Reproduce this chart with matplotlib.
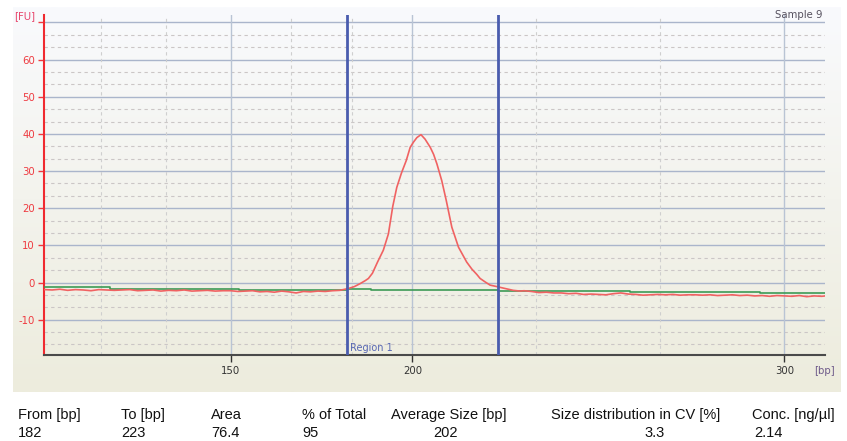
import numpy as np
import matplotlib
matplotlib.use("Agg")
import matplotlib.pyplot as plt

# ---------------- data ----------------
ladder_bp = [50, 100, 150, 200, 300, 400, 500]
ladder_pos = [-194.1, 0.0, 194.1, 375.7, 747.7, 1119.7, 1491.7]

xtick_vals = [150, 200, 300]
xtick_labels = ["150", "200", "300"]
ytick_vals = [-10, 0, 10, 20, 30, 40, 50, 60, 70]
ytick_labels = ["-10", "0", "10", "20", "30", "40", "50", "60", ""]
x_minor_grid = [116.67, 133.33, 166.67, 183.33, 233.33, 266.67]

red_bp = [102, 104, 106, 108, 110, 112, 114, 116, 118, 120, 122, 124, 126, 128,
          130, 132, 134, 136, 138, 140, 142, 144, 146, 148, 150, 152, 154, 156,
          158, 160, 162, 164, 166, 168, 170, 172, 174, 176, 178, 180, 182.4,
          184, 185.6, 187, 187.9, 189, 190.4, 192, 193.4, 194.6, 195.7, 197,
          198.3, 199.4, 200.3, 201.2, 202.3, 203.4, 204.8, 205.7, 206.6, 207.9,
          209.1, 210.6, 212.4, 214.6, 216, 217.3, 218.2, 219.5, 220.9, 222.3,
          223.6, 224.9, 227.1, 229, 230, 232, 234, 236, 238, 240, 242, 244, 246,
          248, 250, 252, 254, 256, 258, 260, 262, 264, 266, 268, 270, 272, 274,
          276, 278, 280, 282, 284, 286, 288, 290, 292, 294, 296, 298, 300, 302,
          304, 306, 308, 310, 311]
red_fu = [-1.9, -2.0, -1.8, -2.1, -1.9, -2.0, -2.2, -1.9, -2.0, -2.1, -2.0, -1.9,
          -2.2, -2.1, -2.0, -2.3, -2.1, -2.2, -2.0, -2.3, -2.2, -2.1, -2.3, -2.2,
          -2.2, -2.4, -2.3, -2.2, -2.5, -2.4, -2.6, -2.3, -2.5, -2.8, -2.4, -2.5,
          -2.3, -2.4, -2.2, -2.1, -1.6,
          -1.1, -0.3, 0.5, 1.1, 2.5, 5.5, 8.7, 13.1, 20.5, 25.6, 29.5,
          32.8, 36.4, 37.8, 39.0, 39.8, 38.6, 36.4, 34.5, 31.9, 27.4,
          22.1, 14.9, 9.5, 5.5, 3.6, 2.2, 1.1, 0.2, -0.7, -1.0,
          -1.3, -1.6, -2.1, -2.3, -2.2, -2.4, -2.7, -2.6, -2.8, -2.8, -3.0, -2.9,
          -3.2, -3.1, -3.2, -3.3, -3.0, -2.8, -3.1, -3.2, -3.4, -3.3, -3.2, -3.3,
          -3.2, -3.4, -3.3, -3.3, -3.4, -3.3, -3.5, -3.4, -3.3, -3.5, -3.4, -3.6,
          -3.5, -3.7, -3.5, -3.6, -3.7, -3.5, -3.8, -3.6, -3.7, -3.6]

green_bp = [101.9, 119, 152.3, 182, 188.5, 223, 258.6, 293.4, 311]
green_fu = [-1.3, -1.7, -1.9, -1.7, -2.1, -2.2, -2.5, -2.8, -2.8]

region_from = 182
region_to = 223
region_label = "Region 1"
sample_name = "Sample 9"

table_headers = ["From [bp]", "To [bp]", "Area", "% of Total", "Average Size [bp]",
                 "Size distribution in CV [%]", "Conc. [ng/µl]"]
table_values = ["182", "223", "76.4", "95", "202", "3.3", "2.14"]

# ---------------- figure ----------------
W, H = 847, 441
fig = plt.figure(figsize=(W / 100, H / 100), dpi=100)
fig.patch.set_facecolor("white")

def fx(px):
    return px / W

def fy(py):
    return 1 - py / H

# gradient panel
bg = fig.add_axes([fx(13), fy(392), fx(840) - fx(13), fy(7) - fy(392)])
top = np.array([249, 250, 253]) / 255
bot = np.array([237, 236, 221]) / 255
t = np.linspace(0, 1, 256)[:, None]
grad = (top[None, :] * (1 - t) + bot[None, :] * t)[:, None, :]
bg.imshow(grad, aspect="auto", extent=[0, 1, 0, 1])
bg.set_axis_off()
bg.set_zorder(0)

ax = fig.add_axes([fx(44), fy(355), fx(825) - fx(44), fy(15) - fy(355)])
ax.set_zorder(1)
ax.patch.set_alpha(0)

def fwd(x):
    return np.interp(x, ladder_bp, ladder_pos)

def inv(p):
    return np.interp(p, ladder_pos, ladder_bp)

ax.set_xscale("function", functions=(fwd, inv))
ax.set_xlim(101.9, 310.9)
ax.set_ylim(-19.5, 72)

# grid
for yv in ytick_vals:
    ax.axhline(yv, color="#aab5cb", lw=1.0, zorder=1)
for yv in ytick_vals[:-1]:
    for k in (1, 2):
        ax.axhline(yv + k * 10 / 3, color="#cbc6c6", lw=0.8, ls=(0, (3, 3)), zorder=1)
ax.axhline(-10 - 10 / 3, color="#cbc6c6", lw=0.8, ls=(0, (3, 3)), zorder=1)
ax.axhline(-10 - 20 / 3, color="#cbc6c6", lw=0.8, ls=(0, (3, 3)), zorder=1)
for xv in xtick_vals:
    ax.axvline(xv, color="#b9c4d4", lw=1.0, zorder=1)
for xv in x_minor_grid:
    ax.axvline(xv, color="#cfcfcf", lw=0.8, ls=(0, (3, 3)), zorder=1)

# traces
ax.plot(green_bp, green_fu, color="#3d9a55", lw=1.2, drawstyle="steps-post", zorder=3)
ax.plot(red_bp, red_fu, color="#f06262", lw=1.2, zorder=4)

# region lines
ax.axvline(region_from, color="#4a5cae", lw=2.0, zorder=5)
ax.axvline(region_to, color="#4a5cae", lw=2.0, zorder=5)
ax.text(region_from + 0.8, -17.6, region_label, color="#5868b4", fontsize=7,
        ha="left", va="center", zorder=6)

# axes styling
ax.set_xticks(xtick_vals)
ax.set_xticklabels(xtick_labels)
ax.set_yticks(ytick_vals)
ax.set_yticklabels(ytick_labels)
ax.tick_params(axis="y", colors="#ee3a40", labelcolor="#ee3a40", labelsize=7.3,
               length=4, width=1, pad=2.5, direction="out")
ax.tick_params(axis="x", colors="#333333", labelcolor="#333333", labelsize=7.3,
               length=5, width=1, pad=3, direction="out")
ax.minorticks_off()
for s in ("top", "right"):
    ax.spines[s].set_visible(False)
ax.spines["left"].set_color("#f02a30")
ax.spines["left"].set_linewidth(1.5)
ax.spines["bottom"].set_color("#4a4a4a")
ax.spines["bottom"].set_linewidth(1.5)

fig.text(fx(25), fy(16), "[FU]", color="#e8436a", fontsize=7.3, ha="center", va="center")
fig.text(fx(824), fy(371), "[bp]", color="#6e5a8a", fontsize=7.3, ha="center", va="center")
fig.text(fx(822), fy(15), sample_name, color="#55505e", fontsize=7.3, ha="right", va="center")

# table
hdr_x = [18, 121, 211, 302, 391, 551, 752]
val_x = [18, 121, 211, 302, 445, 655, 768]
val_ha = ["left", "left", "left", "left", "center", "center", "center"]
for h, xp in zip(table_headers, hdr_x):
    fig.text(fx(xp), fy(415), h, fontsize=10.5, family="Liberation Sans",
             color="#111111", ha="left", va="center")
for v, xp, ha in zip(table_values, val_x, val_ha):
    fig.text(fx(xp), fy(433), v, fontsize=10.5, family="Liberation Sans",
             color="#111111", ha=ha, va="center")

fig.savefig("out.png", dpi=100)
